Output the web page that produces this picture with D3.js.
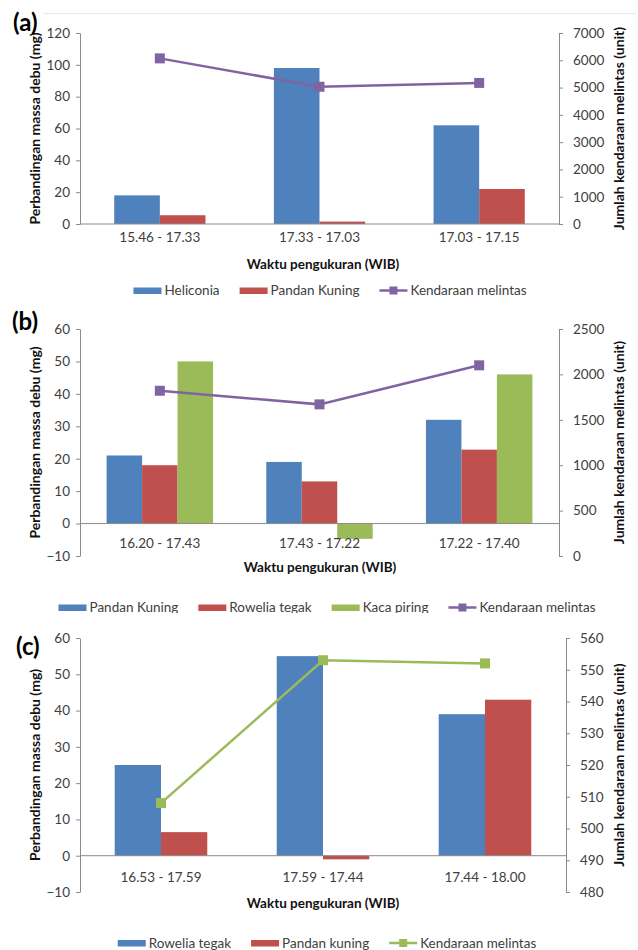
<!DOCTYPE html>
<html>
<head>
<meta charset="utf-8">
<script src="https://cdn.jsdelivr.net/npm/d3@7"></script>
<style>
  html, body { margin: 0; padding: 0; background: #fff; }
  svg { display: block; font-family: Lato, "Open Sans", sans-serif; }
</style>
</head>
<body>
<svg id="chart" width="638" height="950"></svg>
<script>
// ---------- DATA ----------
const categoriesA = ["15.46 - 17.33", "17.33 - 17.03", "17.03 - 17.15"];
const heliconiaA = [18, 98, 62];
const pandanKuningA = [5.5, 1.5, 22];
const kendaraanA = [6070, 5030, 5170];
const leftTicksA = [0, 20, 40, 60, 80, 100, 120];
const rightTicksA = [0, 1000, 2000, 3000, 4000, 5000, 6000, 7000];

const categoriesB = ["16.20 - 17.43", "17.43 - 17.22", "17.22 - 17.40"];
const pandanKuningB = [21, 19, 32];
const roweliaTegakB = [18, 13, 22.8];
const kacaPiringB = [50, -4.7, 46];
const kendaraanB = [1820, 1670, 2100];
const leftTicksB = [-10, 0, 10, 20, 30, 40, 50, 60];
const rightTicksB = [0, 500, 1000, 1500, 2000, 2500];

const categoriesC = ["16.53 - 17.59", "17.59 - 17.44", "17.44 - 18.00"];
const roweliaTegakC = [25, 55, 39];
const pandanKuningC = [6.5, -1, 43];
const kendaraanC = [508, 553, 552];
const leftTicksC = [-10, 0, 10, 20, 30, 40, 50, 60];
const rightTicksC = [480, 490, 500, 510, 520, 530, 540, 550, 560];

const leftTitle = "Perbandingan massa debu (mg)";
const rightTitle = "Jumlah kendaraan melintas (unit)";
const xTitle = "Waktu pengukuran (WIB)";

// ---------- STYLE ----------
const BLUE = "#4F81BD", RED = "#C0504D", GREEN = "#9BBB59", PURPLE = "#8064A2";
const AXIS = "#8a8a8a", TICKTXT = "#404040";

const panels = [
  { label: "(a)", labelX: 13, labelY: 31, categories: categoriesA,
    series: [{ name: "Heliconia", values: heliconiaA, color: BLUE },
             { name: "Pandan Kuning", values: pandanKuningA, color: RED }],
    line: { name: "Kendaraan melintas", values: kendaraanA, color: PURPLE },
    leftDomain: [0, 120], leftTicks: leftTicksA, rightDomain: [0, 7000], rightTicks: rightTicksA,
    plot: { l: 80, r: 559, t: 33, b: 224 },
    xLabelY: 242, titleX: 323, titleY: 269, legendY: 290.5, legendCx: 330, clipBottom: null },
  { label: "(b)", labelX: 12, labelY: 330, categories: categoriesB,
    series: [{ name: "Pandan Kuning", values: pandanKuningB, color: BLUE },
             { name: "Rowelia tegak", values: roweliaTegakB, color: RED },
             { name: "Kaca piring", values: kacaPiringB, color: GREEN }],
    line: { name: "Kendaraan melintas", values: kendaraanB, color: PURPLE },
    leftDomain: [-10, 60], leftTicks: leftTicksB, rightDomain: [0, 2500], rightTicks: rightTicksB,
    plot: { l: 80, r: 559, t: 329, b: 556 },
    xLabelY: 548, titleX: 320, titleY: 572, legendY: 607.5, legendCx: 327, clipBottom: 613 },
  { label: "(c)", labelX: 16, labelY: 655, categories: categoriesC,
    series: [{ name: "Rowelia tegak", values: roweliaTegakC, color: BLUE },
             { name: "Pandan kuning", values: pandanKuningC, color: RED }],
    line: { name: "Kendaraan melintas", values: kendaraanC, color: GREEN },
    leftDomain: [-10, 60], leftTicks: leftTicksC, rightDomain: [480, 560], rightTicks: rightTicksC,
    plot: { l: 80, r: 566, t: 638, b: 892 },
    xLabelY: 882, titleX: 323, titleY: 908, legendY: 943, legendCx: 327, clipBottom: 950 }
];

const svg = d3.select("#chart");
svg.append("rect").attr("width", 638).attr("height", 950).attr("fill", "#fff");

// faint top border line
svg.append("line").attr("x1", 43).attr("x2", 636).attr("y1", 13.5).attr("y2", 13.5)
  .attr("stroke", "#e8e8e8").attr("stroke-width", 1);

panels.forEach((p, pi) => {
  const g = svg.append("g");
  const { l, r, t, b } = p.plot;
  const yL = d3.scaleLinear().domain(p.leftDomain).range([b, t]);
  const yR = d3.scaleLinear().domain(p.rightDomain).range([b, t]);
  const x0 = d3.scaleBand().domain(p.categories).range([l, r]).padding(0);
  const n = p.series.length;
  const bw = x0.bandwidth() / (n + 1.5);
  const x1 = d3.scaleBand().domain(p.series.map(s => s.name))
    .range([bw * 0.75, bw * 0.75 + bw * n]).padding(0);

  // bars
  p.series.forEach(s => {
    g.selectAll(null).data(s.values).enter().append("rect")
      .attr("x", (d, i) => x0(p.categories[i]) + x1(s.name))
      .attr("width", x1.bandwidth())
      .attr("y", d => yL(Math.max(0, d)))
      .attr("height", d => Math.abs(yL(d) - yL(0)))
      .attr("fill", s.color);
  });

  // category axis line at 0
  g.append("line").attr("x1", l).attr("x2", r).attr("y1", yL(0)).attr("y2", yL(0))
    .attr("stroke", AXIS).attr("stroke-width", 1);

  // left axis
  const ax = g.append("g").attr("transform", `translate(${l},0)`)
    .call(d3.axisLeft(yL).tickValues(p.leftTicks).tickFormat(d3.format("d"))
      .tickSize(4).tickSizeOuter(0).tickPadding(6));
  // right axis
  const axr = g.append("g").attr("transform", `translate(${r},0)`)
    .call(d3.axisRight(yR).tickValues(p.rightTicks).tickFormat(d3.format("d"))
      .tickSize(4).tickSizeOuter(0).tickPadding(10));
  [ax, axr].forEach(a => {
    a.select(".domain").attr("stroke", AXIS);
    a.selectAll(".tick line").attr("stroke", AXIS);
    a.selectAll(".tick text").attr("fill", TICKTXT).style("font-size", "13.5px")
      .style("font-family", "Lato, sans-serif");
  });

  // category labels
  g.selectAll(null).data(p.categories).enter().append("text")
    .attr("x", d => x0(d) + x0.bandwidth() / 2).attr("y", p.xLabelY)
    .attr("text-anchor", "middle").attr("fill", TICKTXT).style("font-size", "13.5px")
    .text(d => d);

  // line series
  const lineGen = d3.line()
    .x((d, i) => x0(p.categories[i]) + x0.bandwidth() / 2)
    .y(d => yR(d));
  g.append("path").datum(p.line.values).attr("d", lineGen)
    .attr("fill", "none").attr("stroke", p.line.color).attr("stroke-width", 2.5);
  g.selectAll(null).data(p.line.values).enter().append("rect")
    .attr("x", (d, i) => x0(p.categories[i]) + x0.bandwidth() / 2 - 5)
    .attr("y", d => yR(d) - 5).attr("width", 10).attr("height", 10)
    .attr("fill", p.line.color);

  // axis titles
  g.append("text").attr("transform", `translate(40,${(t + b) / 2}) rotate(-90)`)
    .attr("text-anchor", "middle").style("font-size", "14px").style("font-weight", "bold")
    .attr("fill", "#111").text(leftTitle);
  g.append("text").attr("transform", `translate(624,${(t + b) / 2}) rotate(-90)`)
    .attr("text-anchor", "middle").style("font-size", "14px").style("font-weight", "bold")
    .attr("fill", "#111").text(rightTitle);
  g.append("text").attr("x", p.titleX).attr("y", p.titleY)
    .attr("text-anchor", "middle").style("font-size", "13.5px").style("font-weight", "bold")
    .attr("fill", "#111").text(xTitle);

  // panel label
  svg.append("text").attr("x", p.labelX).attr("y", p.labelY)
    .style("font-size", "24px").style("font-weight", "bold").attr("fill", "#000")
    .text(p.label);

  // legend
  const clipId = "clip" + pi;
  svg.append("clipPath").attr("id", clipId).append("rect")
    .attr("x", 0).attr("y", 0).attr("width", 638).attr("height", p.clipBottom || 950);
  const lg = svg.append("g").attr("clip-path", `url(#${clipId})`);
  const items = p.series.map(s => ({ name: s.name, color: s.color, type: "bar" }))
    .concat([{ name: p.line.name, color: p.line.color, type: "line" }]);
  const sw = 28, gapSwText = 3, gapItem = 20;
  const itemGs = items.map(it => {
    const ig = lg.append("g");
    if (it.type === "bar") {
      ig.append("rect").attr("x", 0).attr("y", -3).attr("width", sw).attr("height", 6.5).attr("fill", it.color);
    } else {
      ig.append("line").attr("x1", 0).attr("x2", sw).attr("y1", 0).attr("y2", 0)
        .attr("stroke", it.color).attr("stroke-width", 2.5);
      ig.append("rect").attr("x", sw / 2 - 4).attr("y", -4).attr("width", 8).attr("height", 8).attr("fill", it.color);
    }
    const tx = ig.append("text").attr("x", sw + gapSwText).attr("y", 4.5)
      .style("font-size", "13.5px").attr("fill", TICKTXT).text(it.name);
    return { ig, w: sw + gapSwText + tx.node().getComputedTextLength() };
  });
  const total = d3.sum(itemGs, d => d.w) + gapItem * (itemGs.length - 1);
  let cx = p.legendCx - total / 2;
  itemGs.forEach(d => {
    d.ig.attr("transform", `translate(${cx},${p.legendY})`);
    cx += d.w + gapItem;
  });
});
</script>
</body>
</html>
